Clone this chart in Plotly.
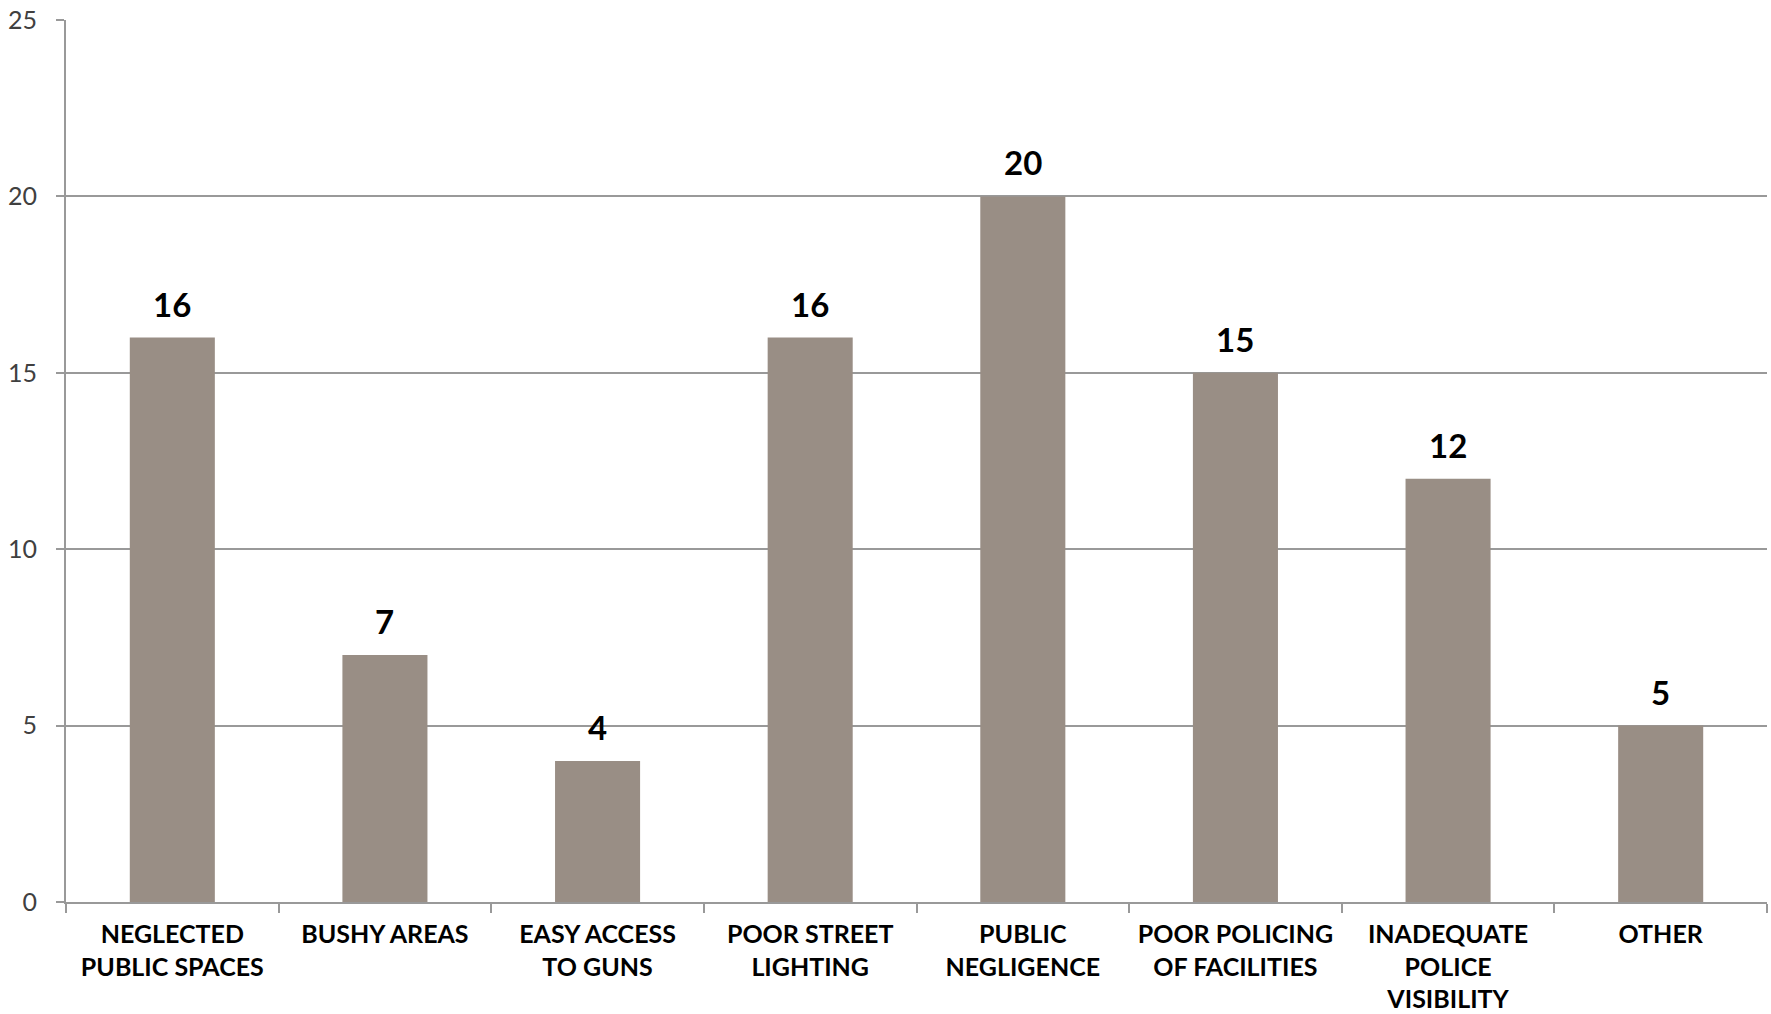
import plotly.graph_objects as go

categories = ["NEGLECTED<br>PUBLIC SPACES", "BUSHY AREAS", "EASY ACCESS<br>TO GUNS",
              "POOR STREET<br>LIGHTING", "PUBLIC<br>NEGLIGENCE", "POOR POLICING<br>OF FACILITIES",
              "INADEQUATE<br>POLICE<br>VISIBILITY", "OTHER"]
values = [16, 7, 4, 16, 20, 15, 12, 5]
y_ticks = [0, 5, 10, 15, 20, 25]

fig = go.Figure(go.Bar(
    x=categories, y=values,
    marker=dict(color="#998E85", line=dict(width=0)),
    cliponaxis=False,
))

for c, v in zip(categories, values):
    fig.add_annotation(
        x=c, y=v, text=str(v), showarrow=False, yanchor="bottom", yshift=12,
        font=dict(family="Lato", size=33, color="#000000", weight="bold"),
    )

fig.update_layout(
    width=1771, height=1014,
    margin=dict(l=66, r=4, t=20, b=112),
    plot_bgcolor="white", paper_bgcolor="white",
    bargap=0.6, showlegend=False,
    font=dict(family="Lato"),
)
fig.update_xaxes(
    automargin=False, tickangle=0,
    showline=True, linecolor="#999999", linewidth=2,
    ticks="outside", tickson="boundaries", ticklen=9, tickcolor="#999999", tickwidth=2,
    tickfont=dict(family="Lato", size=25, color="#000000", weight="bold"),
    showgrid=False, ticklabelstandoff=9,
)
fig.update_yaxes(
    automargin=False,
    range=[0, 25], tickvals=y_ticks,
    showline=True, linecolor="#999999", linewidth=2,
    ticks="outside", ticklen=8, tickcolor="#999999", tickwidth=2,
    showgrid=True, gridcolor="#999999", gridwidth=1.5,
    tickfont=dict(family="Lato", size=25, color="#404040"),
    zeroline=False, ticklabelstandoff=14,
)

fig.write_html("out.html", config={"displayModeBar": False},
               post_script="document.body.style.margin='0';document.body.style.overflow='hidden';")
